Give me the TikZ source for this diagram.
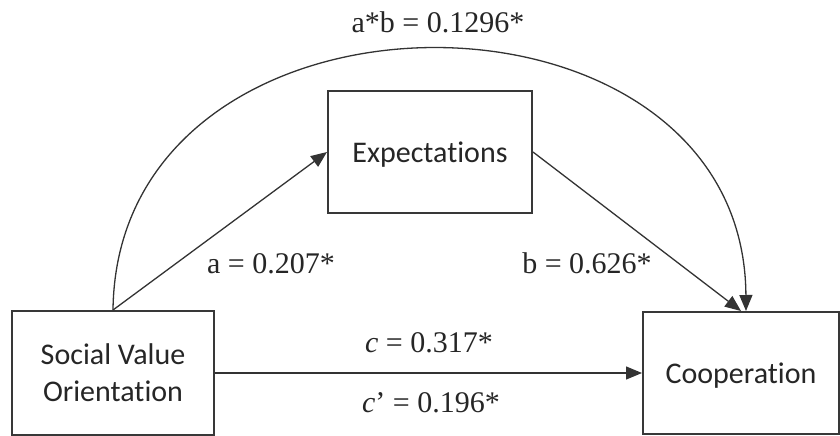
\documentclass[tikz,border=0pt]{standalone}
\usepackage{fontspec}
\setmainfont{Liberation Serif}
\newfontfamily\boxfont[Ligatures={NoCommon,NoContextual}]{Carlito}
\usetikzlibrary{arrows.meta,calc}
\begin{document}
\begin{tikzpicture}[x=1pt,y=-1pt,
  box/.style={draw=black!78,line width=2pt,inner sep=0pt,fill=white,
    font=\boxfont\fontsize{30}{37}\selectfont,text=black!85,align=center},
  lbl/.style={anchor=base,inner sep=0pt,font=\fontsize{30}{35}\selectfont,text=black!85},
  conn/.style={draw=black!80,line width=1.3pt,-{Triangle[length=16pt,width=13pt]}},
]
\useasboundingbox (0,0) rectangle (840,436);
\node[box,minimum width=202pt,minimum height=124pt] (svo) at (113,373) {Social Value\\Orientation};
\node[box,minimum width=204pt,minimum height=122pt,text height=24pt,text depth=4pt] (exp) at (430,152) {Expectations};
\node[box,minimum width=196pt,minimum height=122pt,text height=24pt,text depth=4pt] (coop) at (741,373) {Cooperation};
\coordinate (arcend) at ($(coop.north)+(5,0)$);
\draw[conn] (svo.north) .. controls +(4,-348) and +(-2,-348) .. (arcend);
\draw[conn] (svo.north) -- (exp.west);
\draw[conn] (exp.east) -- (coop.north);
\draw[conn] (svo.east) -- (coop.west);
\node[lbl] (lab) at (438,33) {a*b = 0.1296*};
\node[lbl] (la) at (271,273) {a = 0.207*};
\node[lbl] (lb) at (587,273) {b = 0.626*};
\node[lbl] (lc) at (429,352) {\textit{c} = 0.317*};
\node[lbl] (lcp) at (431,412) {\textit{c}’ = 0.196*};
\end{tikzpicture}
\end{document}
